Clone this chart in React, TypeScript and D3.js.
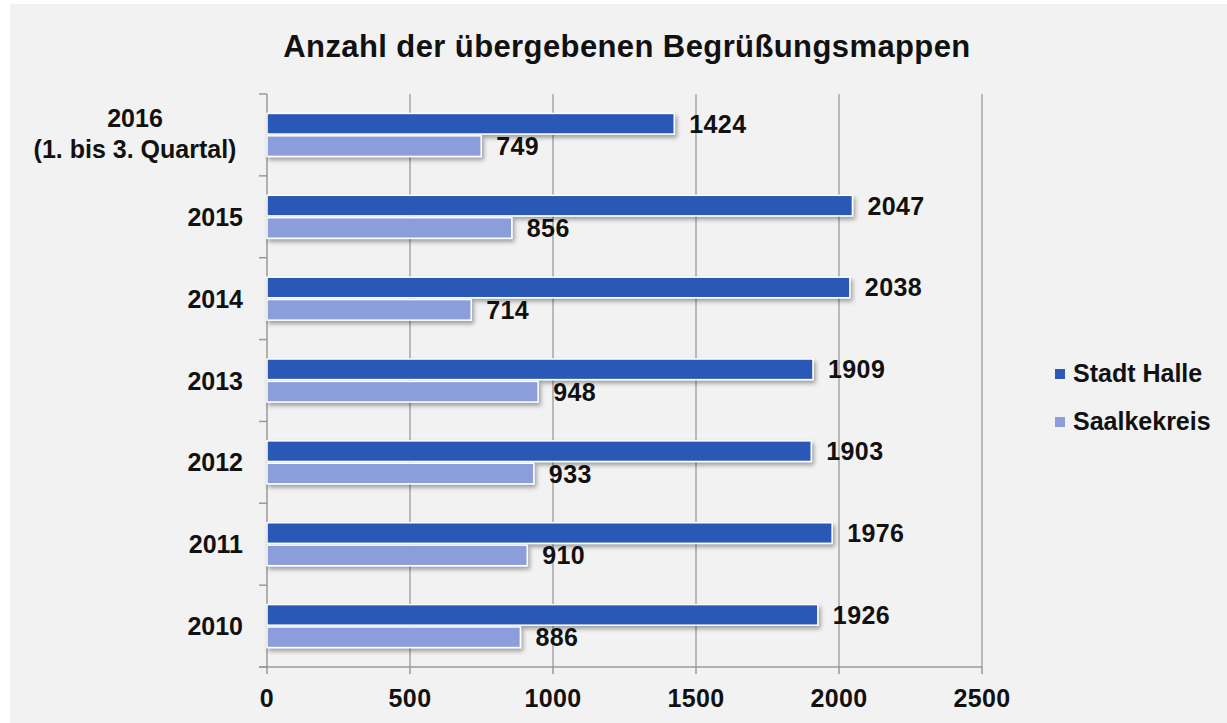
import React, { useRef, useEffect } from 'react';
import * as d3 from 'd3';

// data
const categories = ['2016', '2015', '2014', '2013', '2012', '2011', '2010'];
const stadtHalle = [1424, 2047, 2038, 1909, 1903, 1976, 1926];
const saalkekreis = [749, 856, 714, 948, 933, 910, 886];
const seriesNames = ['Stadt Halle', 'Saalkekreis'];
const xTicks = [0, 500, 1000, 1500, 2000, 2500];

const colors = ['#2c58b6', '#8b9edb'];
const font = '"Liberation Sans", Arial, sans-serif';

const App: React.FC = () => {
  const svgRef = useRef<SVGSVGElement | null>(null);

  useEffect(() => {
    d3.select(svgRef.current).selectAll('*').remove();

    const width = 1227;
    const height = 723;

    const svg = d3.select(svgRef.current)
      .attr('width', width)
      .attr('height', height)
      .style('position', 'absolute')
      .style('left', '0px')
      .style('top', '0px')
      .style('font-family', font);

    // shadow for bars
    const defs = svg.append('defs');
    const filter = defs.append('filter')
      .attr('id', 'shadow')
      .attr('x', '-5%').attr('y', '-30%')
      .attr('width', '115%').attr('height', '190%');
    filter.append('feDropShadow')
      .attr('dx', 2).attr('dy', 3)
      .attr('stdDeviation', 2)
      .attr('flood-color', '#000')
      .attr('flood-opacity', 0.35);

    // background
    svg.append('rect').attr('width', width).attr('height', height).attr('fill', '#ffffff');
    svg.append('rect')
      .attr('x', 10).attr('y', 4)
      .attr('width', width - 10).attr('height', height - 4)
      .attr('fill', '#f2f2f2');

    // title
    svg.append('text')
      .attr('x', 627).attr('y', 57)
      .attr('text-anchor', 'middle')
      .attr('font-size', 31)
      .attr('font-weight', 'bold')
      .attr('letter-spacing', 0.4)
      .attr('fill', '#111')
      .text('Anzahl der übergebenen Begrüßungsmappen');

    // scales
    const xScale = d3.scaleLinear().domain([0, 2500]).range([267, 982]);
    const p = 0.475;
    const yScale = d3.scaleBand()
      .domain(categories)
      .range([94, 667])
      .paddingInner(p)
      .paddingOuter(p / 2);
    const subScale = d3.scaleBand()
      .domain(['0', '1'])
      .range([0, yScale.bandwidth()])
      .paddingInner(0.08);

    const top = 94;
    const bottom = 667;

    // vertical gridlines
    svg.append('g')
      .selectAll('line')
      .data(xTicks.slice(1))
      .enter()
      .append('line')
      .attr('x1', d => xScale(d)).attr('x2', d => xScale(d))
      .attr('y1', top).attr('y2', bottom)
      .attr('stroke', '#a6a6a6')
      .attr('stroke-width', 1.5);

    // left axis with category boundary ticks
    svg.append('line')
      .attr('x1', xScale(0)).attr('x2', xScale(0))
      .attr('y1', top).attr('y2', bottom)
      .attr('stroke', '#9a9a9a').attr('stroke-width', 1.5);
    const step = yScale.step();
    svg.append('g')
      .selectAll('line')
      .data(d3.range(categories.length + 1))
      .enter()
      .append('line')
      .attr('x1', xScale(0) - 8).attr('x2', xScale(0))
      .attr('y1', i => top + i * step).attr('y2', i => top + i * step)
      .attr('stroke', '#9a9a9a').attr('stroke-width', 1.5);

    // bottom axis
    svg.append('line')
      .attr('x1', xScale(0) - 8).attr('x2', xScale(2500))
      .attr('y1', bottom).attr('y2', bottom)
      .attr('stroke', '#9a9a9a').attr('stroke-width', 1.5);
    const xt = svg.append('g')
      .selectAll('g')
      .data(xTicks)
      .enter()
      .append('g');
    xt.append('line')
      .attr('x1', d => xScale(d)).attr('x2', d => xScale(d))
      .attr('y1', bottom).attr('y2', bottom + 7)
      .attr('stroke', '#9a9a9a').attr('stroke-width', 1.5);
    xt.append('text')
      .attr('x', d => xScale(d))
      .attr('y', 707)
      .attr('text-anchor', 'middle')
      .attr('font-size', 25)
      .attr('font-weight', 'bold')
      .attr('letter-spacing', 0.4)
      .attr('fill', '#111')
      .text(d => d);

    // category labels
    categories.forEach((c, i) => {
      const cy = (yScale(c) as number) + yScale.bandwidth() / 2;
      if (i === 0) {
        const t = svg.append('text')
          .attr('text-anchor', 'middle')
          .attr('font-size', 25)
          .attr('font-weight', 'bold')
          .attr('fill', '#111');
        t.append('tspan').attr('x', 135).attr('y', cy - 8).text(c);
        t.append('tspan').attr('x', 135).attr('y', cy + 23).text('(1. bis 3. Quartal)');
      } else {
        svg.append('text')
          .attr('x', 243)
          .attr('y', cy + 9)
          .attr('text-anchor', 'end')
          .attr('font-size', 25)
          .attr('font-weight', 'bold')
          .attr('fill', '#111')
          .text(c);
      }
    });

    // bars
    const series = [stadtHalle, saalkekreis];
    series.forEach((vals, s) => {
      const g = svg.append('g');
      g.selectAll('rect')
        .data(vals)
        .enter()
        .append('rect')
        .attr('x', xScale(0))
        .attr('y', (_, i) => (yScale(categories[i]) as number) + (subScale(String(s)) as number))
        .attr('width', d => xScale(d) - xScale(0))
        .attr('height', subScale.bandwidth())
        .attr('fill', colors[s])
        .attr('stroke', '#ffffff')
        .attr('stroke-width', 1.5)
        .attr('filter', 'url(#shadow)');

      g.selectAll('text')
        .data(vals)
        .enter()
        .append('text')
        .attr('x', d => xScale(d) + 15)
        .attr('y', (_, i) => (yScale(categories[i]) as number) + (subScale(String(s)) as number) + subScale.bandwidth() / 2 + 9)
        .attr('font-size', 25)
        .attr('font-weight', 'bold')
        .attr('letter-spacing', 0.4)
        .attr('fill', '#111')
        .text(d => d);
    });

    // legend
    const legend = svg.append('g')
      .selectAll('g')
      .data(seriesNames)
      .enter()
      .append('g');
    legend.append('rect')
      .attr('x', 1055)
      .attr('y', (_, i) => 369 + i * 48)
      .attr('width', 10).attr('height', 10)
      .attr('fill', (_, i) => colors[i]);
    legend.append('text')
      .attr('x', 1073)
      .attr('y', (_, i) => 382 + i * 48)
      .attr('font-size', 25)
      .attr('font-weight', 'bold')
      .attr('fill', '#111')
      .text(d => d);
  }, []);

  return (
    <div>
      <svg ref={svgRef}></svg>
    </div>
  );
};

export default App;
